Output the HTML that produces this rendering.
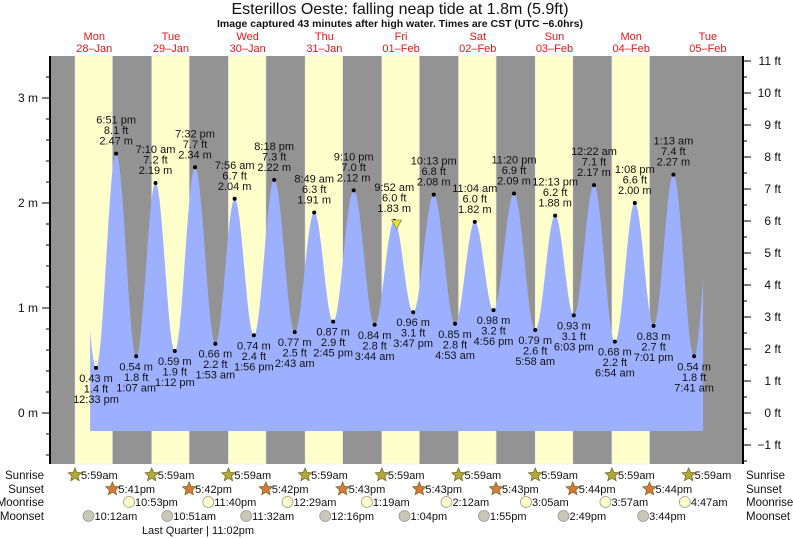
<!DOCTYPE html>
<html><head><meta charset="utf-8"><style>
body{margin:0;background:#fff;}
svg{display:block;font-family:"Liberation Sans",sans-serif;}
</style></head><body>
<svg id="chart" width="793" height="538" viewBox="0 0 793 538" xmlns="http://www.w3.org/2000/svg">
<text x="400" y="14" text-anchor="middle" font-size="16" fill="#111">Esterillos Oeste: falling  neap tide at 1.8m (5.9ft)</text>
<text x="400" y="27" text-anchor="middle" font-size="10.5" font-weight="bold" fill="#111">Image captured 43 minutes after high water. Times are CST (UTC −6.0hrs)</text>
<g id="bands"></g><g id="tide"></g><g id="axes"></g><g id="labels"></g><g id="bottom"></g>
</svg>
<script>
// data
const dayNames=["Mon","Tue","Wed","Thu","Fri","Sat","Sun","Mon","Tue"];
const dayDates=["28\u2013Jan","29\u2013Jan","30\u2013Jan","31\u2013Jan","01\u2013Feb","02\u2013Feb","03\u2013Feb","04\u2013Feb","05\u2013Feb"];
const sunriseHours=[5.983,5.983,5.983,5.983,5.983,5.983,5.983,5.983,5.983];
const sunriseLabels=["5:59am","5:59am","5:59am","5:59am","5:59am","5:59am","5:59am","5:59am","5:59am"];
const sunsetHours=[17.683,17.7,17.7,17.717,17.717,17.717,17.733,17.733];
const sunsetLabels=["5:41pm","5:42pm","5:42pm","5:43pm","5:43pm","5:43pm","5:44pm","5:44pm"];
const moonriseHours=[22.883,47.667,72.483,97.317,122.2,147.083,171.95,196.783];
const moonriseLabels=["10:53pm","11:40pm","12:29am","1:19am","2:12am","3:05am","3:57am","4:47am"];
const moonsetHours=[10.2,34.85,59.533,84.267,109.067,133.917,158.817,183.733];
const moonsetLabels=["10:12am","10:51am","11:32am","12:16pm","1:04pm","1:55pm","2:49pm","3:44pm"];
const tideHours=[12.55,18.85,25.117,31.167,37.2,43.533,49.883,55.933,61.933,68.3,74.717,80.817,86.75,93.167,99.733,105.867,111.783,118.217,124.883,131.067,136.933,143.333,149.967,156.217,162.05,168.367,174.9,181.133,187.017,193.217,199.683];
const tideLevels=[0.43,2.47,0.54,2.19,0.59,2.34,0.66,2.04,0.74,2.22,0.77,1.91,0.87,2.12,0.84,1.83,0.96,2.08,0.85,1.82,0.98,2.09,0.79,1.88,0.93,2.17,0.68,2.00,0.83,2.27,0.54];
const tideTimes=["12:33 pm","6:51 pm","1:07 am","7:10 am","1:12 pm","7:32 pm","1:53 am","7:56 am","1:56 pm","8:18 pm","2:43 am","8:49 am","2:45 pm","9:10 pm","3:44 am","9:52 am","3:47 pm","10:13 pm","4:53 am","11:04 am","4:56 pm","11:20 pm","5:58 am","12:13 pm","6:03 pm","12:22 am","6:54 am","1:08 pm","7:01 pm","1:13 am","7:41 am"];
const tideFeet=["1.4","8.1","1.8","7.2","1.9","7.7","2.2","6.7","2.4","7.3","2.5","6.3","2.9","7.0","2.8","6.0","3.1","6.8","2.8","6.0","3.2","6.9","2.6","6.2","3.1","7.1","2.2","6.6","2.7","7.4","1.8"];
const phantomStart=[6.3,2.2]; const phantomEnd=[205.9,2.3];
const dataStartHour=10.7, dataEndHour=202.5;
const nowHour=106.6, nowLevel=1.8;
const mTicks=[0,1,2,3]; const ftTicks=[-1,0,1,2,3,4,5,6,7,8,9,10,11];

const NS="http://www.w3.org/2000/svg";
const X0=55.9, PPH=3.196, L=50, R=743, T=56, B=464;
const xs=h=>X0+h*PPH; const ym=m=>413-m*105; const yft=f=>413-f*32.0;
function mk(tag,attrs,parent,txt){const e=document.createElementNS(NS,tag);for(const k in attrs)e.setAttribute(k,attrs[k]);if(txt!==undefined)e.textContent=txt;parent.appendChild(e);return e;}
const bands=document.getElementById('bands'),tide=document.getElementById('tide'),axes=document.getElementById('axes'),labels=document.getElementById('labels'),bottom=document.getElementById('bottom');

let bg=mk('rect',{x:L,y:T,width:R-L,height:B-T,fill:'#939393'},bands);


for(let d=0;d<sunsetHours.length;d++){
  const a=xs(d*24+sunriseHours[d]),b=xs(d*24+sunsetHours[d]);
  const r=mk('rect',{x:a,y:T,width:b-a,height:B-T,fill:'#ffffcc',stroke:'#e6e6e6','stroke-width':0.6},bands);
  
  
}
for(let d=0;d<dayNames.length;d++){
  const x=xs(d*24+12);
  const t1=mk('text',{x:x,y:40,'text-anchor':'middle','font-size':11,fill:'#e8141a'},labels,dayNames[d]);
  
  
  const t2=mk('text',{x:x,y:52,'text-anchor':'middle','font-size':11,fill:'#e8141a'},labels,dayDates[d]);
  
  
}
// tide curve
const H=[phantomStart[0]].concat(tideHours,[phantomEnd[0]]);
const V=[phantomStart[1]].concat(tideLevels,[phantomEnd[1]]);
function level(h){for(let i=0;i<H.length-1;i++){if(h>=H[i]&&h<=H[i+1]){const f=(h-H[i])/(H[i+1]-H[i]);return V[i]+(V[i+1]-V[i])*(1-Math.cos(Math.PI*f))/2;}}return V[V.length-1];}
const bottomY=431;
let d='M'+xs(dataStartHour)+','+bottomY;
for(let h=dataStartHour;h<=dataEndHour;h+=0.1){d+=' L'+xs(h).toFixed(1)+','+ym(level(h)).toFixed(1);}
d+=' L'+xs(dataEndHour)+','+ym(level(dataEndHour)).toFixed(1)+' L'+xs(dataEndHour)+','+bottomY+' Z';
const area=mk('path',{d:d,fill:'#9db0ff'},tide);


for(let i=0;i<tideHours.length;i++){
  const x=xs(tideHours[i]),y=ym(tideLevels[i]);
  const dot=mk('circle',{cx:x,cy:y,r:2,fill:'#000'},tide);
  
  
  const isHigh=(i%2===1);
  const g=mk('g',{'font-size':11,fill:'#111','text-anchor':'middle'},labels);
  
  
  const lines=isHigh?[tideTimes[i],tideFeet[i]+' ft',tideLevels[i].toFixed(2)+' m']:[tideLevels[i].toFixed(2)+' m',tideFeet[i]+' ft',tideTimes[i]];
  const y0=isHigh?y-30:y+14;
  lines.forEach((s,k)=>mk('text',{x:x,y:y0+k*10.5},g,s));
}
const tri=mk('polygon',{points:(xs(nowHour)-5)+','+(ym(nowLevel)-4)+' '+(xs(nowHour)+5)+','+(ym(nowLevel)-4)+' '+xs(nowHour)+','+(ym(nowLevel)+5),fill:'#e8e020',stroke:'#666','stroke-width':0.6},tide);


// axes
const la=mk('line',{x1:L,y1:T,x2:L,y2:B,stroke:'#000','stroke-width':2},axes);


const ra=mk('line',{x1:R,y1:T,x2:R,y2:B,stroke:'#000','stroke-width':2},axes);


for(let m=-0.6;m<=3.9;m+=0.2){const y=ym(m);if(y<T||y>B)continue;mk('line',{x1:L-4,y1:y,x2:L,y2:y,stroke:'#000'},axes);}
mTicks.forEach(m=>{const y=ym(m);mk('line',{x1:L-8,y1:y,x2:L,y2:y,stroke:'#000'},axes);
  const t=mk('text',{x:L-12,y:y+4,'text-anchor':'end','font-size':12,fill:'#111'},axes,m+' m');
  
  });
for(let f=-1.5;f<=11;f+=0.5){const y=yft(f);if(y<T||y>B)continue;mk('line',{x1:R,y1:y,x2:R+4,y2:y,stroke:'#000'},axes);}
ftTicks.forEach(f=>{const y=yft(f);mk('line',{x1:R,y1:y,x2:R+8,y2:y,stroke:'#000'},axes);
  const t=mk('text',{x:781,y:y+4,'text-anchor':'end','font-size':12,fill:'#111'},axes,(f<0?'\u22121':f)+' ft');
  
  });
// bottom rows
const rows=[["Sunrise",475],["Sunset",489],["Moonrise",502],["Moonset",516]];
rows.forEach(r=>{
  const a=mk('text',{x:44,y:r[1]+4,'text-anchor':'end','font-size':11.5,fill:'#111'},bottom,r[0]);
  
  
  const b=mk('text',{x:746,y:r[1]+4,'font-size':11.5,fill:'#111'},bottom,r[0]);
  
  
});
function star(cx,cy,fill){let p='';for(let k=0;k<10;k++){const a=-Math.PI/2+k*Math.PI/5,rr=k%2?3.2:7;p+=(cx+rr*Math.cos(a)).toFixed(1)+','+(cy+rr*Math.sin(a)).toFixed(1)+' ';}return mk('polygon',{points:p,fill:fill,stroke:'#7a6a20','stroke-width':0.8},bottom);}
function evt(h,y,label,kind){
  const x=xs(h);let ic;
  if(kind==='sunrise')ic=star(x,y,'#b0aa3c');
  else if(kind==='sunset')ic=star(x,y,'#d8783a');
  else ic=mk('circle',{cx:x,cy:y,r:5.5,fill:kind==='moonrise'?'#ffffcc':'#c8c8b8',stroke:'#999','stroke-width':0.8},bottom);
  
  
  const t=mk('text',{x:x+6,y:y+4,'font-size':11,fill:'#111'},bottom,label);
  
  
}
sunriseHours.forEach((h,i)=>evt(i*24+h,475,sunriseLabels[i],'sunrise'));
sunsetHours.forEach((h,i)=>evt(i*24+h,489,sunsetLabels[i],'sunset'));
moonriseHours.forEach((h,i)=>evt(h,502,moonriseLabels[i],'moonrise'));
moonsetHours.forEach((h,i)=>evt(h,516,moonsetLabels[i],'moonset'));
const lq=mk('text',{x:198,y:534,'text-anchor':'middle','font-size':11,fill:'#111'},bottom,'Last Quarter | 11:02pm');


</script>
</body></html>
